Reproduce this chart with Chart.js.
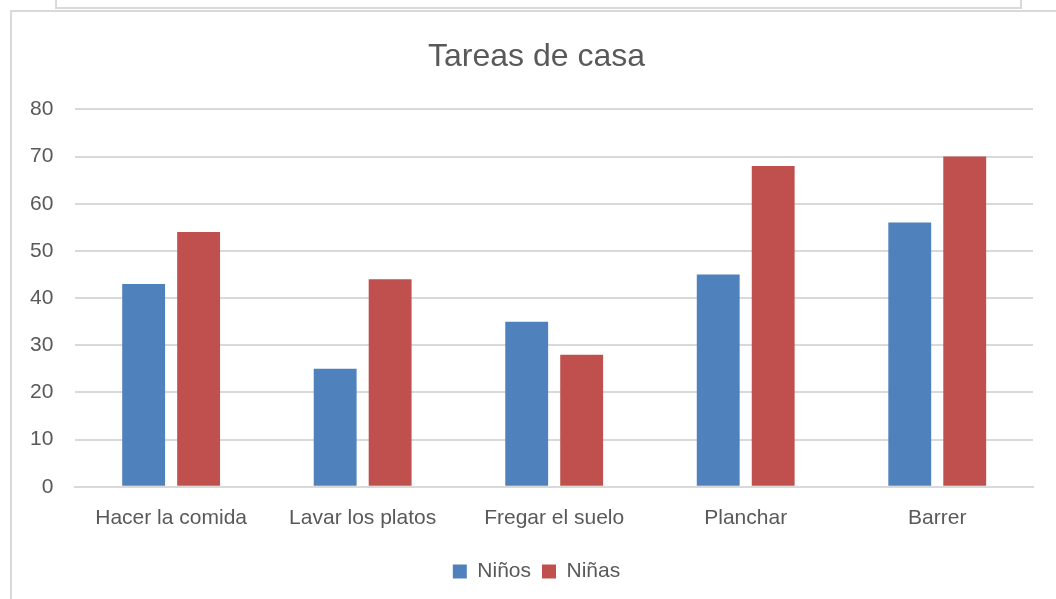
<!DOCTYPE html>
<html>
<head>
<meta charset="utf-8">
<script src="https://cdn.jsdelivr.net/npm/chart.js@4/dist/chart.umd.min.js"></script>
<style>
  html, body { margin: 0; padding: 0; background: #fff; }
  #wrap { position: relative; width: 1056px; height: 599px; overflow: hidden; }
  /* frame of the box above and the chart border */
  #topBox { position: absolute; left: 55px; top: -2px; width: 963px; height: 9px;
            border: 2px solid #d9d9d9; border-top: none; }
  #chartBox { position: absolute; left: 10px; top: 10px; width: 1100px; height: 700px;
              border: 2px solid #d9d9d9; }
  canvas { position: absolute; left: 0; top: 0; }
</style>
</head>
<body>
<div id="wrap">
  <div id="topBox"></div>
  <div id="chartBox"></div>
  <!-- the chart box runs past the right edge, so the canvas does too -->
  <canvas id="chart" width="1065" height="599"></canvas>
</div>
<script>
// Tareas de casa: values
const categories = ["Hacer la comida", "Lavar los platos", "Fregar el suelo", "Planchar", "Barrer"];
const ninos = [43, 25, 35, 45, 56];
const ninas = [54, 44, 28, 68, 70];

const textColor = "#595959";
const fontFamily = "'Liberation Sans', Arial, sans-serif";

new Chart(document.getElementById("chart"), {
  type: "bar",
  data: {
    labels: categories,
    datasets: [
      { label: "Niños", data: ninos, backgroundColor: "#4F81BD" },
      { label: "Niñas", data: ninas, backgroundColor: "#C0504D" }
    ]
  },
  options: {
    responsive: false,
    animation: false,
    categoryPercentage: 0.574,
    barPercentage: 0.78,
    layout: { padding: { left: 8, right: 0, top: 0, bottom: 7 } },
    plugins: {
      title: {
        display: true,
        text: "Tareas de casa",
        color: textColor,
        font: { family: fontFamily, size: 32, weight: "normal" },
        padding: { top: 38, bottom: 33 }
      },
      legend: {
        position: "bottom",
        labels: {
          color: textColor,
          font: { family: fontFamily, size: 21 },
          boxWidth: 14,
          boxHeight: 14,
          padding: 11
        }
      },
      tooltip: { enabled: false }
    },
    scales: {
      x: {
        grid: { display: false, drawTicks: false },
        border: { color: "#d9d9d9", width: 2 },
        ticks: { color: textColor, font: { family: fontFamily, size: 21 }, padding: 19, maxRotation: 0 }
      },
      y: {
        min: 0,
        max: 80,
        grid: { color: "#d9d9d9", lineWidth: 2, drawTicks: false },
        border: { display: false },
        ticks: { stepSize: 10, color: textColor, font: { family: fontFamily, size: 21 }, padding: 22 }
      },
      // empty right-hand margin so the plot ends where the reference's does
      spacer: {
        position: "right",
        display: true,
        grid: { display: false, drawTicks: false },
        border: { display: false },
        ticks: { display: false },
        afterFit: (axis) => { axis.width = 32; }
      }
    }
  }
});
</script>
</body>
</html>
